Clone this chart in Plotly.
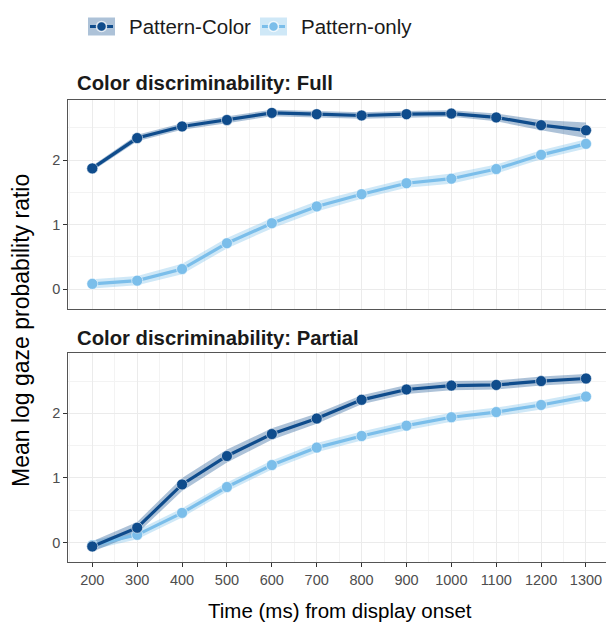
import plotly.graph_objects as go

# Time bins (ms after display onset)
times = [200, 300, 400, 500, 600, 700, 800, 900, 1000, 1100, 1200, 1300]

# Panel: Color discriminability = Full
full_pc_mean = [1.87, 2.34, 2.52, 2.62, 2.73, 2.71, 2.69, 2.71, 2.72, 2.66, 2.54, 2.46]
full_pc_se = [0.04, 0.05, 0.05, 0.05, 0.05, 0.05, 0.05, 0.05, 0.05, 0.06, 0.08, 0.12]
full_po_mean = [0.08, 0.13, 0.31, 0.71, 1.02, 1.28, 1.47, 1.64, 1.71, 1.86, 2.08, 2.25]
full_po_se = [0.07, 0.07, 0.08, 0.08, 0.08, 0.08, 0.07, 0.07, 0.08, 0.07, 0.07, 0.07]

# Panel: Color discriminability = Partial
part_pc_mean = [-0.06, 0.23, 0.90, 1.34, 1.68, 1.92, 2.21, 2.37, 2.43, 2.44, 2.50, 2.54]
part_pc_se = [0.08, 0.09, 0.10, 0.10, 0.09, 0.08, 0.07, 0.07, 0.07, 0.07, 0.07, 0.07]
part_po_mean = [-0.04, 0.12, 0.46, 0.86, 1.20, 1.47, 1.65, 1.81, 1.94, 2.02, 2.13, 2.26]
part_po_se = [0.07, 0.07, 0.07, 0.07, 0.07, 0.07, 0.07, 0.07, 0.07, 0.07, 0.07, 0.07]

series_names = ["Pattern-Color", "Pattern-only"]
panel_titles = ["Color discriminability: Full", "Color discriminability: Partial"]
x_title = "Time (ms) from display onset"
y_title = "Mean log gaze probability ratio"

DARK = "#0F4C8C"
LIGHT = "#7BBEEA"
DARK_FILL = "rgba(15,76,140,0.34)"
LIGHT_FILL = "rgba(123,190,234,0.36)"

W, H = 606, 626
FONT = "Liberation Sans, Arial, sans-serif"


def px(x):
    return x / W


def py(y):
    return 1 - y / H


fig = go.Figure()

panels = [
    ("x", "y", [(full_po_mean, full_po_se, LIGHT, LIGHT_FILL),
                (full_pc_mean, full_pc_se, DARK, DARK_FILL)]),
    ("x2", "y2", [(part_po_mean, part_po_se, LIGHT, LIGHT_FILL),
                  (part_pc_mean, part_pc_se, DARK, DARK_FILL)]),
]

for xa, ya, groups in panels:
    # confidence ribbons
    for mean, se, col, fill in groups:
        upper = [m + s for m, s in zip(mean, se)]
        lower = [m - s for m, s in zip(mean, se)]
        fig.add_trace(go.Scatter(
            x=times + times[::-1], y=upper + lower[::-1],
            fill="toself", fillcolor=fill, line=dict(width=0),
            mode="lines", hoverinfo="skip", showlegend=False,
            xaxis=xa, yaxis=ya))
    # mean lines with points
    for mean, se, col, fill in groups:
        fig.add_trace(go.Scatter(
            x=times, y=mean, mode="lines+markers",
            line=dict(color=col, width=3.2),
            marker=dict(color=col, size=11,
                        line=dict(color="rgba(255,255,255,0.55)", width=1)),
            showlegend=False, xaxis=xa, yaxis=ya))

# panel geometry in pixels
left, right = 68.3, 606
top1, bot1 = 100.0, 308.7
top2, bot2 = 353.3, 562.3

xrange = [146.5, 1344.6]
yrange = [-0.305, 2.93]

common_x = dict(
    range=xrange, tickmode="linear", tick0=200, dtick=100,
    showgrid=True, gridcolor="#EBEBEB", gridwidth=1.1,
    minor=dict(tick0=250, dtick=100, showgrid=True,
               gridcolor="#F3F3F3", gridwidth=0.6),
    showline=True, linecolor="#555555", linewidth=1.2, mirror=True,
    zeroline=False, domain=[px(left), px(right)],
)
common_y = dict(
    range=yrange, tickmode="linear", tick0=0, dtick=1,
    showgrid=True, gridcolor="#EBEBEB", gridwidth=1.1,
    minor=dict(tick0=0.5, dtick=1, showgrid=True,
               gridcolor="#F3F3F3", gridwidth=0.6),
    showline=True, linecolor="#555555", linewidth=1.2, mirror=False,
    zeroline=False, ticks="outside", ticklen=4, tickcolor="#333333",
    tickwidth=1.1, tickfont=dict(family=FONT, size=14.5, color="#4D4D4D"),
)

fig.update_layout(
    width=W, height=H,
    margin=dict(l=0, r=0, t=0, b=0),
    paper_bgcolor="white", plot_bgcolor="white",
    showlegend=False,
    xaxis=dict(common_x, anchor="y", showticklabels=False, ticks=""),
    yaxis=dict(common_y, anchor="x", domain=[py(bot1), py(top1)]),
    xaxis2=dict(common_x, anchor="y2", ticks="outside", ticklen=4,
                tickcolor="#333333", tickwidth=1.1,
                tickfont=dict(family=FONT, size=14.5, color="#4D4D4D")),
    yaxis2=dict(common_y, anchor="x2", domain=[py(bot2), py(top2)]),
)

annotations = []
# facet strip titles
for title, yc in zip(panel_titles, [83.5, 337.5]):
    annotations.append(dict(
        text="<b>" + title + "</b>", xref="paper", yref="paper",
        x=px(75), y=py(yc), xanchor="left", yanchor="middle",
        showarrow=False, font=dict(family=FONT, size=20.3, color="#1A1A1A")))
# axis titles
annotations.append(dict(
    text=x_title, xref="paper", yref="paper", x=px(339.5), y=py(610),
    xanchor="center", yanchor="middle", showarrow=False,
    font=dict(family=FONT, size=20.5, color="#000000")))
annotations.append(dict(
    text=y_title, xref="paper", yref="paper", x=px(21), y=py(331),
    xanchor="center", yanchor="middle", textangle=-90, showarrow=False,
    font=dict(family=FONT, size=23, color="#000000")))

# legend built from keys and labels
shapes = []
legend_items = [(series_names[0], DARK, DARK_FILL, 88, 127),
                (series_names[1], LIGHT, LIGHT_FILL, 260, 299)]
for name, col, fill, kx, tx in legend_items:
    ky0, ky1 = 17.5, 35.5
    kw = 27
    shapes.append(dict(type="rect", xref="paper", yref="paper",
                       x0=px(kx), x1=px(kx + kw), y0=py(ky1), y1=py(ky0),
                       fillcolor=fill, line=dict(width=0)))
    ym = (ky0 + ky1) / 2
    shapes.append(dict(type="line", xref="paper", yref="paper",
                       x0=px(kx + 2), x1=px(kx + kw - 2), y0=py(ym), y1=py(ym),
                       line=dict(color=col, width=3)))
    r = 5
    cx = kx + kw / 2
    shapes.append(dict(type="circle", xref="paper", yref="paper",
                       x0=px(cx - r), x1=px(cx + r), y0=py(ym + r), y1=py(ym - r),
                       fillcolor=col, line=dict(color="rgba(255,255,255,0.8)", width=1.5)))
    annotations.append(dict(
        text=name, xref="paper", yref="paper", x=px(tx), y=py(ym),
        xanchor="left", yanchor="middle", showarrow=False,
        font=dict(family=FONT, size=20.5, color="#1A1A1A")))

fig.update_layout(annotations=annotations, shapes=shapes)

fig.write_html("out.html")
